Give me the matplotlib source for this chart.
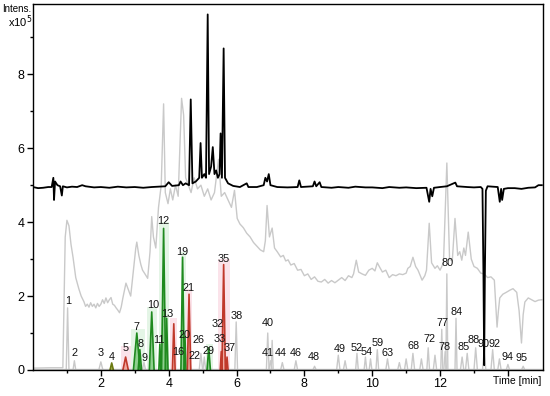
import numpy as np
import matplotlib.pyplot as plt

# --- data (time in min, intensity in 1e5) ---
bpc_t = [0.0, 0.15, 0.3, 0.45, 0.55, 0.6, 0.62, 0.65, 0.72, 0.8, 0.85, 0.88, 1.0, 1.15, 1.3, 1.45, 1.55,
         1.8, 2.0, 2.25, 2.5, 2.75, 3.0, 3.25, 3.5, 3.7, 3.9, 4.0, 4.1, 4.3, 4.35, 4.42, 4.5, 4.6, 4.65,
         4.7, 4.8, 4.9, 4.94, 4.98, 5.05, 5.1, 5.15, 5.19, 5.25, 5.3, 5.35, 5.4, 5.45, 5.5, 5.53, 5.57,
         5.62, 5.66, 5.75, 5.9, 6.1, 6.3, 6.35, 6.6, 6.8, 6.85, 6.9, 6.95, 7.0, 7.2, 7.5, 7.8, 7.85,
         7.9, 8.25, 8.3, 8.35, 8.45, 8.5, 8.8, 9.0, 9.3, 9.5, 9.8, 10.0, 10.3, 10.5, 10.8, 11.0, 11.3,
         11.6, 11.68, 11.72, 11.77, 11.82, 12.0, 12.2, 12.45, 12.5, 12.8, 13.0, 13.2, 13.25, 13.28,
         13.3, 13.32, 13.35, 13.4, 13.55, 13.7, 13.76, 13.8, 13.83, 13.88, 14.0, 14.2, 14.4, 14.6,
         14.8, 14.9, 15.0]
bpc_y = [4.95, 4.92, 4.93, 4.95, 4.95, 5.2, 4.6, 5.1, 5.0, 4.97, 4.72, 4.97, 4.94, 4.96, 4.95, 5.0, 4.97,
         4.94, 4.95, 4.93, 4.96, 4.94, 4.95, 4.93, 4.95, 4.96, 4.97, 5.08, 4.98, 5.0, 5.1, 5.0, 5.05, 5.0,
         7.32, 5.05, 5.1, 5.2, 6.14, 5.2, 5.3, 5.2, 9.62, 5.3, 5.5, 6.03, 5.3, 5.4, 5.2, 5.3, 6.4, 5.2,
         8.7, 5.2, 5.05, 4.98, 4.95, 5.05, 4.95, 4.95, 5.0, 5.2, 5.1, 5.3, 5.0, 4.95, 4.94, 4.95, 5.13,
         4.95, 4.97, 5.1, 4.97, 5.08, 4.95, 4.93, 4.95, 4.93, 4.96, 4.94, 4.94, 4.92, 4.95, 4.93, 4.94, 4.92,
         4.93, 4.55, 4.9, 4.7, 4.93, 4.95, 4.97, 5.07, 4.97, 4.95, 4.94, 4.95, 4.9, 2.5,
         0.13, 2.5, 4.85, 4.97, 4.96, 4.95, 4.55, 4.9, 4.6, 4.9, 4.92, 4.92, 4.9, 4.93,
         4.94, 5.0, 5.0]

tic_t = [0.0, 0.5, 0.88, 0.95, 1.0, 1.06, 1.12, 1.18, 1.26, 1.35, 1.42, 1.5, 1.55, 1.6, 1.65, 1.7, 1.75,
         1.8, 1.85, 1.9, 1.95, 2.0, 2.05, 2.1, 2.15, 2.2, 2.25, 2.3, 2.35, 2.4, 2.45, 2.5, 2.55, 2.6,
         2.65, 2.74, 2.8, 2.88, 2.95, 3.03, 3.06, 3.12, 3.18, 3.23, 3.3, 3.38, 3.45, 3.5, 3.55, 3.62,
         3.7, 3.78, 3.85, 3.9, 3.98, 4.05, 4.12, 4.2, 4.28, 4.38, 4.44, 4.5, 4.58, 4.66, 4.75, 4.85,
         4.95, 5.05, 5.15, 5.25, 5.35, 5.47, 5.55, 5.65, 5.75, 5.85, 5.94, 6.02, 6.1, 6.2, 6.3, 6.4,
         6.5, 6.6, 6.7, 6.8, 6.85, 6.9, 6.97, 7.05, 7.12, 7.2, 7.3, 7.38, 7.45, 7.52, 7.6, 7.7, 7.8,
         7.9, 8.0, 8.1, 8.2, 8.3, 8.4, 8.5, 8.6, 8.7, 8.8, 8.9, 9.0, 9.1, 9.2, 9.3, 9.4, 9.45, 9.53,
         9.6, 9.7, 9.8, 9.9, 10.0, 10.08, 10.15, 10.22, 10.3, 10.4, 10.5, 10.6, 10.7, 10.8, 10.9, 11.0,
         11.05, 11.12, 11.2, 11.28, 11.35, 11.47, 11.55, 11.6, 11.68, 11.75, 11.85, 11.92, 12.0, 12.1,
         12.2, 12.28, 12.36, 12.44, 12.52, 12.58, 12.64, 12.7, 12.75, 12.83, 12.92, 13.0, 13.1, 13.2,
         13.3, 13.4, 13.5, 13.6, 13.64, 13.68, 13.72, 13.76, 13.85, 13.95, 14.06, 14.15, 14.26, 14.33,
         14.4, 14.45, 14.5, 14.6, 14.7, 14.8, 14.9, 15.0]
tic_y = [0.05, 0.06, 0.06, 3.6, 4.05, 3.9, 3.4, 3.05, 2.5, 2.2, 2.0, 1.85, 1.72, 1.78, 1.7, 1.82, 1.72,
         1.78, 1.68, 1.8, 1.72, 1.78, 1.9, 1.8, 1.95, 1.82, 1.9, 1.96, 1.78, 1.75, 1.68, 1.62, 1.55, 1.7,
         1.95, 2.35, 2.2, 2.0, 2.6, 3.3, 3.46, 3.1, 2.85, 2.7, 2.6, 2.48, 3.2, 4.15, 3.6, 3.3,
         4.4, 5.0, 7.2, 4.8, 4.5, 4.9, 4.6, 5.0, 4.7, 7.35, 6.9, 5.2, 5.0, 4.8, 5.2, 4.9,
         5.0, 4.7, 4.9, 4.6, 4.8, 5.7, 4.7, 4.8, 4.6, 4.4, 4.86, 4.1, 3.95, 3.85, 3.7, 3.6,
         3.45, 3.35, 3.25, 3.2, 3.5, 4.45, 3.6, 3.84, 3.3, 3.2, 3.06, 3.1, 2.95, 2.98, 2.84, 2.88, 2.7,
         2.72, 2.55, 2.6, 2.45, 2.52, 2.4, 2.38, 2.45, 2.35, 2.42, 2.36, 2.43, 2.5, 2.42, 2.55, 2.5, 2.6, 2.97,
         2.65, 2.6, 2.56, 2.7, 2.75, 2.68, 2.9, 2.78, 2.65, 2.7, 2.5, 2.58, 2.55, 2.6, 2.58, 2.62,
         2.75, 2.8, 3.05, 2.8, 2.7, 2.43, 2.55, 2.7, 3.97, 2.9, 2.75, 2.82, 2.7, 2.9,
         5.6, 3.0, 2.95, 4.1, 3.1, 3.2, 2.97, 3.3, 3.1, 3.73, 3.0, 2.8, 2.75, 2.62,
         2.6, 2.5, 2.52, 2.43, 1.8, 1.16, 1.6, 1.95, 2.05, 2.1, 2.16, 2.2, 2.1, 1.6,
         0.73, 1.5, 1.84, 1.95, 1.9, 1.85, 1.89, 1.9]

# small grey peaks near the baseline: time, height, half width
gray_pk_t = [1.02, 1.22, 2.0, 3.27, 4.62, 4.95, 5.05, 5.99, 6.92, 7.05, 7.0, 7.35, 7.75, 8.3, 9.0,
             9.2, 9.55, 9.8, 9.95, 10.15, 10.45, 10.8, 11.0, 11.2, 11.45, 11.65, 11.85, 12.05, 12.15,
             12.2, 12.47, 12.65, 12.8, 13.05, 13.3, 13.55, 13.75, 14.0, 14.45]
gray_pk_h = [1.68, 0.25, 0.22, 0.2, 0.25, 0.45, 0.35, 1.3, 1.0, 0.8, 0.25, 0.2, 0.25, 0.1, 0.4,
             0.25, 0.45, 0.35, 0.3, 0.55, 0.3, 0.2, 0.3, 0.45, 0.3, 0.6, 0.4, 1.1, 0.5,
             2.6, 1.4, 0.35, 0.45, 0.6, 0.5, 0.55, 0.3, 0.15, 0.1]
gray_pk_w = [0.04, 0.04, 0.06, 0.05, 0.04, 0.05, 0.04, 0.04, 0.04, 0.03, 0.05, 0.05, 0.05, 0.05, 0.05,
             0.05, 0.04, 0.04, 0.04, 0.04, 0.05, 0.05, 0.05, 0.05, 0.05, 0.04, 0.05, 0.03, 0.04,
             0.03, 0.03, 0.05, 0.05, 0.05, 0.05, 0.05, 0.05, 0.05, 0.05]

green_pk_t = [3.06, 3.15, 3.5, 3.74, 3.85, 3.94, 4.41, 4.48, 5.18]
green_pk_h = [1.0, 0.55, 1.57, 0.7, 3.83, 1.4, 3.05, 0.9, 0.6]
green_pk_w = [0.1, 0.05, 0.07, 0.03, 0.06, 0.04, 0.05, 0.03, 0.05]

olive_pk_t = [2.32]
olive_pk_h = [0.19]
olive_pk_w = [0.05]

red_pk_t = [2.73, 4.15, 4.6, 5.55, 5.62, 5.72]
red_pk_h = [0.35, 1.25, 2.05, 0.5, 2.85, 0.35]
red_pk_w = [0.08, 0.04, 0.05, 0.03, 0.05, 0.03]

# shaded windows behind the coloured peaks: start, end, top
pink_win = [(2.6, 2.9, 0.65), (4.05, 4.25, 1.4), (4.52, 4.7, 2.2), (5.45, 5.8, 3.0)]
green_win = [(2.9, 3.3, 1.1), (3.35, 3.65, 1.7), (3.7, 4.0, 4.0), (4.35, 4.52, 3.2), (5.1, 5.3, 0.7)]

peak_labels = ['1', '2', '3', '4', '5', '7', '8', '9', '10', '11', '12', '13', '16', '19', '20', '21',
               '22', '26', '29', '32', '33', '35', '37', '38', '40', '41', '44', '46', '48', '49', '52',
               '54', '59', '63', '68', '72', '77', '78', '80', '84', '85', '88', '90', '92', '94', '95']
label_t = [1.03, 1.21, 2.0, 2.32, 2.74, 3.06, 3.17, 3.28, 3.53, 3.72, 3.85, 3.96, 4.29, 4.41, 4.48, 4.59,
           4.75, 4.88, 5.18, 5.44, 5.5, 5.62, 5.8, 6.0, 6.91, 6.92, 7.3, 7.76, 8.29, 9.03, 9.53,
           9.84, 10.15, 10.45, 11.21, 11.68, 12.06, 12.12, 12.21, 12.5, 12.68, 12.98, 13.28, 13.6, 14.0, 14.41]
label_y = [1.86, 0.46, 0.46, 0.35, 0.59, 1.16, 0.7, 0.32, 1.76, 0.81, 4.03, 1.51, 0.49, 3.19, 0.95, 2.22,
           0.38, 0.81, 0.51, 1.24, 0.84, 3.0, 0.59, 1.46, 1.27, 0.46, 0.46, 0.46, 0.35, 0.57, 0.59,
           0.49, 0.73, 0.46, 0.65, 0.84, 1.27, 0.62, 2.89, 1.57, 0.62, 0.81, 0.7, 0.7, 0.35, 0.32]

x_ticks = [2, 4, 6, 8, 10, 12, 14]
x_ticklabels = ['2', '4', '6', '8', '10', '12', '']
y_ticks = [0, 2, 4, 6, 8]

plt.rcParams['font.family'] = ['Liberation Sans', 'DejaVu Sans']

fig = plt.figure(figsize=(5.5, 3.96), dpi=100)
ax = fig.add_axes([0.06, 0.0657, 0.927, 0.924])

GRAY = '#c9c9c9'


def draw_peaks(ts, hs, ws, edge, face, lw=1.0, z=2):
    for t, h, w in zip(ts, hs, ws):
        xs = [t - w, t, t + w]
        ys = [0, h, 0]
        if face is not None:
            ax.fill(xs, ys, color=face, lw=0, zorder=z)
        ax.plot(xs, ys, color=edge, lw=lw, zorder=z + 0.1)


for a, b, top in pink_win:
    ax.fill_between([a, b], 0, top, color='#fbe3ea', lw=0, zorder=0)
for a, b, top in green_win:
    ax.fill_between([a, b], 0, top, color='#e4f5e6', lw=0, zorder=0)

ax.axhline(0.04, color=GRAY, lw=1.0, zorder=1)
ax.plot(tic_t, tic_y, color=GRAY, lw=1.0, zorder=1)
draw_peaks(gray_pk_t, gray_pk_h, gray_pk_w, GRAY, None, z=1)
draw_peaks(olive_pk_t, olive_pk_h, olive_pk_w, '#6b7a12', '#a9b45a', lw=1.2)
draw_peaks(green_pk_t, green_pk_h, green_pk_w, '#1f8a1f', '#8fcf8f', lw=1.2)
draw_peaks(red_pk_t, red_pk_h, red_pk_w, '#c0392b', '#f0a9a0', lw=1.2)
ax.plot(bpc_t, bpc_y, color='black', lw=1.3, zorder=4)

for s, t, y in zip(peak_labels, label_t, label_y):
    ax.text(t, y, s, ha='center', va='center', fontsize=7.8, color='#111111', zorder=5)

ax.set_xlim(0, 15.03)
ax.set_ylim(0, 9.9)
ax.set_xticks(x_ticks)
ax.set_xticklabels(x_ticklabels)
ax.set_xticks(np.arange(1, 15, 2), minor=True)
ax.set_yticks(y_ticks)
ax.set_yticks([1, 3, 5, 7, 9], minor=True)
ax.tick_params(which='major', direction='out', length=4, width=1, labelsize=9, pad=2)
ax.tick_params(which='minor', direction='out', length=2.5, width=1)
for sp in ax.spines.values():
    sp.set_linewidth(1.0)

ax.text(0.998, -0.03, 'Time [min]', transform=ax.transAxes, ha='right', va='center', fontsize=7.5)
fig.text(0.004, 0.978, 'Intens.', ha='left', va='center', fontsize=7)
fig.text(0.014, 0.944, r'x10$^5$', ha='left', va='center', fontsize=8)

fig.savefig('out.png', dpi=100)
